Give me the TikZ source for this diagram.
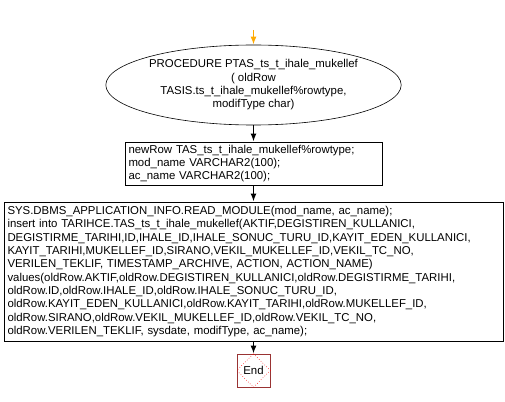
\documentclass[tikz,border=0pt]{standalone}
\usepackage{fontspec}
\setmainfont{Liberation Sans}
\usetikzlibrary{arrows.meta, shapes.geometric}
\definecolor{endred}{RGB}{153,51,51}
\definecolor{startorange}{RGB}{255,170,0}

\begin{document}
\begin{tikzpicture}[x=1pt, y=-1pt,
    font=\fontsize{11.4}{13.3}\selectfont,
    flowbox/.style={draw, line width=0.8pt, align=left, inner xsep=3.5pt, inner ysep=2pt},
    flow/.style={line width=1.6pt, -{Latex[length=8pt, width=6pt]}}]
    % Page size
    \useasboundingbox (0,0) rectangle (505,401);

    % Start of the procedure
    \coordinate (start) at (253.5,30);
    \node[ellipse, draw, line width=0.6pt, minimum width=256pt, minimum height=80pt,
          inner sep=0pt, align=center] (proc) at (253.5,85)
        {PROCEDURE PTAS\_ts\_t\_ihale\_mukellef\\( oldRow\\TASIS.ts\_t\_ihale\_mukellef\%rowtype,\\modifType char)};

    % Declarations
    \node[flowbox, minimum width=257pt, minimum height=43pt, text width=250pt] (decl) at (253.5,163.5)
        {newRow TAS\_ts\_t\_ihale\_mukellef\%rowtype;\\mod\_name VARCHAR2(100);\\ac\_name VARCHAR2(100);};

    % Body
    \node[flowbox, minimum width=499pt, minimum height=139pt, text width=492pt] (body) at (253.5,271.5)
        {SYS.DBMS\_APPLICATION\_INFO.READ\_MODULE(mod\_name, ac\_name);\\
         insert into TARIHCE.TAS\_ts\_t\_ihale\_mukellef(AKTIF,DEGISTIREN\_KULLANICI,\\
         DEGISTIRME\_TARIHI,ID,IHALE\_ID,IHALE\_SONUC\_TURU\_ID,KAYIT\_EDEN\_KULLANICI,\\
         KAYIT\_TARIHI,MUKELLEF\_ID,SIRANO,VEKIL\_MUKELLEF\_ID,VEKIL\_TC\_NO,\\
         VERILEN\_TEKLIF, TIMESTAMP\_ARCHIVE, ACTION, ACTION\_NAME)\\
         values(oldRow.AKTIF,oldRow.DEGISTIREN\_KULLANICI,oldRow.DEGISTIRME\_TARIHI,\\
         oldRow.ID,oldRow.IHALE\_ID,oldRow.IHALE\_SONUC\_TURU\_ID,\\
         oldRow.KAYIT\_EDEN\_KULLANICI,oldRow.KAYIT\_TARIHI,oldRow.MUKELLEF\_ID,\\
         oldRow.SIRANO,oldRow.VEKIL\_MUKELLEF\_ID,oldRow.VEKIL\_TC\_NO,\\
         oldRow.VERILEN\_TEKLIF, sysdate, modifType, ac\_name);};

    % End
    \node[draw=endred, line width=0.6pt, minimum size=33pt, inner sep=0pt] (end) at (253.5,370.5) {End};
    \draw[red, dotted, line width=0.6pt] (end.north) -- (end.east) -- (end.south) -- (end.west) -- cycle;

    % Connectors
    \draw[flow, startorange] (start) -- (proc);
    \draw[flow] (proc) -- (decl);
    \draw[flow] (decl) -- (body);
    \draw[flow] (body) -- (end);
\end{tikzpicture}
\end{document}
